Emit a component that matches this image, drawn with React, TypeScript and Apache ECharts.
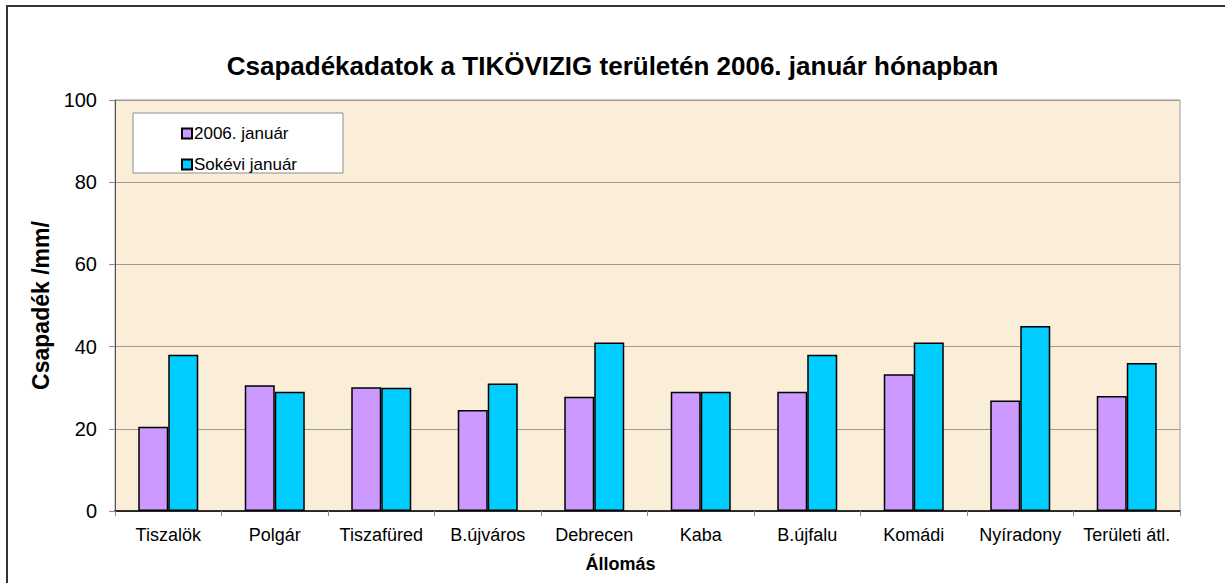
import React, { useEffect, useRef } from "react";
import * as echarts from "echarts";

const categories = ["Tiszalök", "Polgár", "Tiszafüred", "B.újváros", "Debrecen", "Kaba", "B.újfalu", "Komádi", "Nyíradony", "Területi átl."];
const jan2006 = [20.5, 30.6, 30.1, 24.6, 27.8, 29.0, 29.0, 33.3, 26.9, 28.0];
const sokeviJan = [38, 29, 30, 31, 41, 29, 38, 41, 45, 36];
const seriesNames = ["2006. január", "Sokévi január"];
const titleText = "Csapadékadatok a TIKÖVIZIG területén 2006. január hónapban";
const yName = "Csapadék /mm/";
const xName = "Állomás";

const FONT = "'Liberation Sans', Arial, sans-serif";

export default function App() {
  const ref = useRef<HTMLDivElement>(null);
  useEffect(() => {
    if (!ref.current) return;
    const chart = echarts.init(ref.current, undefined, { renderer: "svg" });
    chart.setOption({
      animation: false,
      backgroundColor: "#ffffff",
      textStyle: { fontFamily: FONT },
      title: {
        text: titleText,
        left: "center",
        top: 48,
        textStyle: { fontFamily: FONT, fontSize: 26, fontWeight: "bold", color: "#000" },
      },
      graphic: [
        {
          type: "rect",
          shape: { x: 7, y: 6, width: 1240, height: 600 },
          style: { fill: "none", stroke: "#333", lineWidth: 2 },
          z: 100,
          silent: true,
        },
        {
          type: "rect",
          shape: { x: 133, y: 113, width: 210, height: 60 },
          style: { fill: "#ffffff", stroke: "#8c8c8c", lineWidth: 1 },
          z: 5,
          silent: true,
        },
      ],
      legend: {
        orient: "vertical",
        left: 176,
        top: 120,
        itemWidth: 10,
        itemHeight: 10,
        itemGap: 14,
        icon: "rect",
        z: 10,
        textStyle: { fontFamily: FONT, fontSize: 17, color: "#000", padding: [0, 0, 0, -3] },
        data: seriesNames,
      },
      grid: {
        left: 115,
        right: 45,
        top: 100,
        bottom: 72,
        show: true,
        backgroundColor: "#FBEED9",
        borderColor: "#9a9a9a",
        borderWidth: 1,
      },
      xAxis: {
        type: "category",
        data: categories,
        name: xName,
        nameLocation: "middle",
        nameGap: 44,
        nameTextStyle: { fontFamily: FONT, fontSize: 18, fontWeight: "bold", color: "#000", padding: [0, 54, 0, 0] },
        axisLine: { lineStyle: { color: "#000", width: 1.5 } },
        axisTick: { show: true, length: 5, lineStyle: { color: "#888" } },
        axisLabel: { fontFamily: FONT, fontSize: 18, color: "#000", margin: 15, interval: 0 },
      },
      yAxis: {
        type: "value",
        min: 0,
        max: 100,
        interval: 20,
        name: yName,
        nameLocation: "middle",
        nameGap: 63,
        nameTextStyle: { fontFamily: FONT, fontSize: 23, fontWeight: "bold", color: "#000" },
        axisLine: { show: true, lineStyle: { color: "#555", width: 1 } },
        axisTick: { show: true, length: 6, lineStyle: { color: "#888" } },
        axisLabel: { fontFamily: FONT, fontSize: 20, color: "#000", margin: 18 },
        splitLine: { show: true, lineStyle: { color: "#a09a90", width: 1 } },
      },
      series: [
        {
          name: seriesNames[0],
          type: "bar",
          data: jan2006,
          barWidth: 30,
          barGap: "0%",
          itemStyle: { color: "#CC99FF", borderColor: "#000", borderWidth: 1.5 },
        },
        {
          name: seriesNames[1],
          type: "bar",
          data: sokeviJan,
          barWidth: 30,
          barGap: "0%",
          itemStyle: { color: "#00CCFF", borderColor: "#000", borderWidth: 1.5 },
        },
      ],
    });
    return () => chart.dispose();
  }, []);
  return (
    <div
      ref={ref}
      style={{ position: "fixed", left: 0, top: 0, width: 1225, height: 583 }}
    />
  );
}
